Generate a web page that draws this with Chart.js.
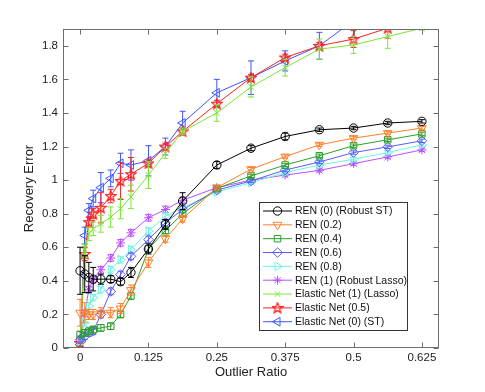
<!DOCTYPE html>
<html>
<head>
<meta charset="utf-8">
<script src="https://cdn.jsdelivr.net/npm/chart.js@4/dist/chart.umd.min.js"></script>
<style>
  body { margin: 0; background: #fff; }
</style>
</head>
<body>
<canvas id="c" width="485" height="392"></canvas>
<script>
// outlier ratios
const ratios = [0, 0.0085, 0.016, 0.024, 0.038, 0.056, 0.074, 0.093, 0.125, 0.156, 0.1875, 0.25, 0.3125, 0.375, 0.4375, 0.5, 0.5625, 0.625];

const xTicks = [0, 0.125, 0.25, 0.375, 0.5, 0.625];
const yTicks = [0, 0.2, 0.4, 0.6, 0.8, 1, 1.2, 1.4, 1.6, 1.8];

const labels = ["REN (0) (Robust ST)", "REN (0.2)", "REN (0.4)", "REN (0.6)", "REN (0.8)",
    "REN (1) (Robust Lasso)", "Elastic Net (1) (Lasso)", "Elastic Net (0.5)", "Elastic Net (0) (ST)"];

const ren0   = [0.46, 0.44, 0.42, 0.41, 0.41, 0.41, 0.395, 0.45, 0.59, 0.735, 0.875, 1.09, 1.19, 1.26, 1.30, 1.31, 1.34, 1.35];
const ren02  = [0.21, 0.21, 0.20, 0.20, 0.21, 0.21, 0.235, 0.345, 0.51, 0.65, 0.77, 0.955, 1.065, 1.14, 1.21, 1.25, 1.28, 1.31];
const ren04  = [0.08, 0.09, 0.10, 0.11, 0.12, 0.13, 0.20, 0.31, 0.59, 0.70, 0.80, 0.95, 1.025, 1.09, 1.145, 1.205, 1.24, 1.275];
const ren06  = [0.05, 0.07, 0.09, 0.10, 0.20, 0.337, 0.437, 0.546, 0.646, 0.746, 0.825, 0.94, 0.995, 1.06, 1.108, 1.164, 1.198, 1.234];
const ren08  = [0.04, 0.15, 0.25, 0.30, 0.347, 0.466, 0.526, 0.586, 0.696, 0.785, 0.835, 0.93, 0.985, 1.045, 1.09, 1.124, 1.164, 1.21];
const ren1   = [0.05, 0.207, 0.347, 0.407, 0.466, 0.536, 0.626, 0.686, 0.776, 0.825, 0.88, 0.955, 1.0, 1.03, 1.058, 1.098, 1.138, 1.18];
const en1    = [0.05, 0.58, 0.68, 0.71, 0.74, 0.78, 0.83, 0.90, 1.03, 1.16, 1.29, 1.40, 1.555, 1.67, 1.78, 1.805, 1.855, 1.905];
const en05   = [0.03, 0.56, 0.75, 0.80, 0.835, 0.905, 0.995, 1.035, 1.10, 1.20, 1.29, 1.455, 1.61, 1.73, 1.80, 1.84, 1.905, 1.98];
const en0    = [0.02, 0.67, 0.82, 0.89, 0.955, 1.01, 1.10, 1.09, 1.115, 1.20, 1.34, 1.52, 1.61, 1.71, 1.80, 1.95, 2.05, 2.12];

// half widths of the error bars
const ren0Err  = [0.14, 0.11, 0.09, 0.07, 0.03, 0.02, 0.02, 0.03, 0.03, 0.03, 0.05, 0.02, 0.015, 0.02, 0.01, 0.01, 0.01, 0.01];
const ren02Err = [0.08, 0.06, 0.03, 0.03, 0.03, 0.03, 0.03, 0.03, 0.03, 0.02, 0.02, 0.01, 0.01, 0.01, 0.01, 0.01, 0.01, 0.01];
const ren04Err = [0.02, 0.02, 0.02, 0.02, 0.02, 0.02, 0.02, 0.02, 0.02, 0.02, 0.02, 0.01, 0.01, 0.01, 0.01, 0.01, 0.01, 0.01];
const ren06Err = [0.02, 0.02, 0.02, 0.02, 0.02, 0.02, 0.02, 0.02, 0.02, 0.02, 0.02, 0.01, 0.01, 0.01, 0.01, 0.01, 0.01, 0.01];
const ren08Err = [0.02, 0.02, 0.02, 0.02, 0.02, 0.02, 0.02, 0.02, 0.02, 0.02, 0.02, 0.01, 0.01, 0.01, 0.01, 0.01, 0.01, 0.01];
const ren1Err  = [0.02, 0.02, 0.02, 0.02, 0.02, 0.02, 0.02, 0.02, 0.02, 0.02, 0.02, 0.01, 0.01, 0.01, 0.01, 0.01, 0.01, 0.01];
const en1Err   = [0.02, 0.04, 0.04, 0.04, 0.05, 0.06, 0.06, 0.07, 0.08, 0.03, 0.02, 0.05, 0.06, 0.05, 0.06, 0.05, 0.07, 0.01];
const en05Err  = [0.02, 0.04, 0.03, 0.03, 0.09, 0.04, 0.11, 0.10, 0.02, 0.02, 0.02, 0.02, 0.02, 0.02, 0.02, 0.05, 0.06, 0.03];
const en0Err   = [0.02, 0.05, 0.04, 0.05, 0.09, 0.05, 0.06, 0.09, 0.09, 0.05, 0.07, 0.08, 0.10, 0.06, 0.08, 0.10, 0.10, 0.10];

function pentagram(color) {
    const c = document.createElement('canvas');
    c.width = 12; c.height = 12;
    const g = c.getContext('2d');
    g.strokeStyle = color; g.lineWidth = 1.3;
    g.beginPath();
    for (let i = 0; i < 10; i++) {
        const r = i % 2 ? 2.3 : 5.4;
        const a = -Math.PI / 2 + i * Math.PI / 5;
        const px = 6 + r * Math.cos(a), py = 6.3 + r * Math.sin(a);
        i ? g.lineTo(px, py) : g.moveTo(px, py);
    }
    g.closePath();
    g.stroke();
    return c;
}

function series(i, ys, errs, color, style, rot, radius) {
    return {
        label: labels[i],
        data: ratios.map((r, k) => ({ x: r, y: ys[k] })),
        errors: errs,
        borderColor: color,
        backgroundColor: 'rgba(0,0,0,0)',
        borderWidth: 1,
        pointStyle: style,
        pointRotation: rot,
        pointRadius: radius,
        pointBorderWidth: 1,
        tension: 0
    };
}

const datasets = [
    series(0, ren0, ren0Err, '#000000', 'circle', 0, 4.2),
    series(1, ren02, ren02Err, '#ff7f2a', 'triangle', 180, 5),
    series(2, ren04, ren04Err, '#2ca02c', 'rect', 0, 4.6),
    series(3, ren06, ren06Err, '#5a5aff', 'rectRot', 0, 4.8),
    series(4, ren08, ren08Err, '#6ff5e0', 'triangle', 90, 5),
    series(5, ren1, ren1Err, '#b851ff', 'star', 0, 4.5),
    series(6, en1, en1Err, '#7ae637', 'crossRot', 0, 4),
    series(7, en05, en05Err, '#ff2020', pentagram('#ff2020'), 0, 5),
    series(8, en0, en0Err, '#3a55ff', 'triangle', -90, 5)
];

const errorBars = {
    id: 'errorBars',
    afterDatasetDraw(chart, args) {
        const ds = chart.data.datasets[args.index];
        const { ctx, chartArea: a, scales: { x, y } } = chart;
        ctx.save();
        ctx.beginPath();
        ctx.rect(a.left, a.top, a.width, a.height);
        ctx.clip();
        ctx.strokeStyle = ds.borderColor;
        ctx.lineWidth = 1;
        ds.data.forEach((p, k) => {
            const e = ds.errors[k];
            const px = x.getPixelForValue(p.x);
            const lo = y.getPixelForValue(p.y - e), hi = y.getPixelForValue(p.y + e);
            ctx.beginPath();
            ctx.moveTo(px, lo); ctx.lineTo(px, hi);
            ctx.moveTo(px - 3, lo); ctx.lineTo(px + 3, lo);
            ctx.moveTo(px - 3, hi); ctx.lineTo(px + 3, hi);
            ctx.stroke();
        });
        ctx.restore();
    }
};

const axesBox = {
    id: 'axesBox',
    afterDraw(chart) {
        const { ctx, chartArea: a, scales: { x, y } } = chart;
        ctx.save();
        ctx.strokeStyle = '#6e6e6e';
        ctx.lineWidth = 1;
        const L = Math.round(a.left) + 0.5, R = Math.round(a.right) - 0.5;
        const T = Math.round(a.top) + 0.5, B = Math.round(a.bottom) - 0.5;
        ctx.strokeRect(L, T, R - L, B - T);
        ctx.beginPath();
        xTicks.forEach(v => {
            const px = Math.round(x.getPixelForValue(v)) + 0.5;
            ctx.moveTo(px, B); ctx.lineTo(px, B - 5);
            ctx.moveTo(px, T); ctx.lineTo(px, T + 5);
        });
        yTicks.forEach(v => {
            const py = Math.round(y.getPixelForValue(v)) + 0.5;
            ctx.moveTo(L, py); ctx.lineTo(L + 5, py);
            ctx.moveTo(R, py); ctx.lineTo(R - 5, py);
        });
        ctx.stroke();

        // legend box
        const bx = 259.5, by = 202.5, bw = 148, bh = 128;
        ctx.fillStyle = '#fff';
        ctx.fillRect(bx, by, bw, bh);
        ctx.strokeStyle = '#333';
        ctx.strokeRect(bx, by, bw, bh);
        ctx.font = '10.5px "Liberation Sans", Arial, sans-serif';
        ctx.textBaseline = 'middle';
        chart.data.datasets.forEach((ds, i) => {
            const cy = 211 + i * 13.84;
            ctx.strokeStyle = ds.borderColor;
            ctx.fillStyle = 'rgba(0,0,0,0)';
            ctx.lineWidth = 1;
            ctx.beginPath();
            ctx.moveTo(263, cy); ctx.lineTo(292, cy);
            ctx.stroke();
            Chart.helpers.drawPoint(ctx, {
                pointStyle: ds.pointStyle, rotation: ds.pointRotation,
                radius: ds.pointRadius, borderWidth: 1
            }, 277.5, cy);
            ctx.fillStyle = '#111';
            ctx.fillText(ds.label, 295, cy + 0.5);
        });
        ctx.restore();
    }
};

new Chart(document.getElementById('c'), {
    type: 'line',
    data: { datasets: datasets },
    options: {
        responsive: false,
        animation: false,
        layout: { padding: { left: 0, right: 46, top: 29, bottom: 0 } },
        plugins: { legend: { display: false }, tooltip: { enabled: false } },
        scales: {
            x: {
                type: 'linear',
                min: -0.03125,
                max: 0.65625,
                afterBuildTicks: s => { s.ticks = xTicks.map(v => ({ value: v })); },
                afterFit: s => { s.height = 44; },
                grid: { display: false, drawTicks: false },
                border: { display: false },
                ticks: {
                    padding: 3,
                    maxRotation: 0,
                    color: '#222',
                    font: { family: '"Liberation Sans", Arial, sans-serif', size: 11.5 },
                    callback: v => String(v)
                },
                title: {
                    display: true,
                    text: 'Outlier Ratio',
                    color: '#222',
                    font: { family: '"Liberation Sans", Arial, sans-serif', size: 13 },
                    padding: { top: 0, bottom: 12 }
                }
            },
            y: {
                type: 'linear',
                min: 0,
                max: 1.9,
                afterBuildTicks: s => { s.ticks = yTicks.map(v => ({ value: v })); },
                afterFit: s => { s.width = 63; },
                grid: { display: false, drawTicks: false },
                border: { display: false },
                ticks: {
                    padding: 5,
                    color: '#222',
                    font: { family: '"Liberation Sans", Arial, sans-serif', size: 11.5 },
                    callback: v => String(v)
                },
                title: {
                    display: true,
                    text: 'Recovery Error',
                    color: '#222',
                    font: { family: '"Liberation Sans", Arial, sans-serif', size: 13 },
                    padding: { top: 22, bottom: 0 }
                }
            }
        }
    },
    plugins: [errorBars, axesBox]
});
</script>
</body>
</html>
